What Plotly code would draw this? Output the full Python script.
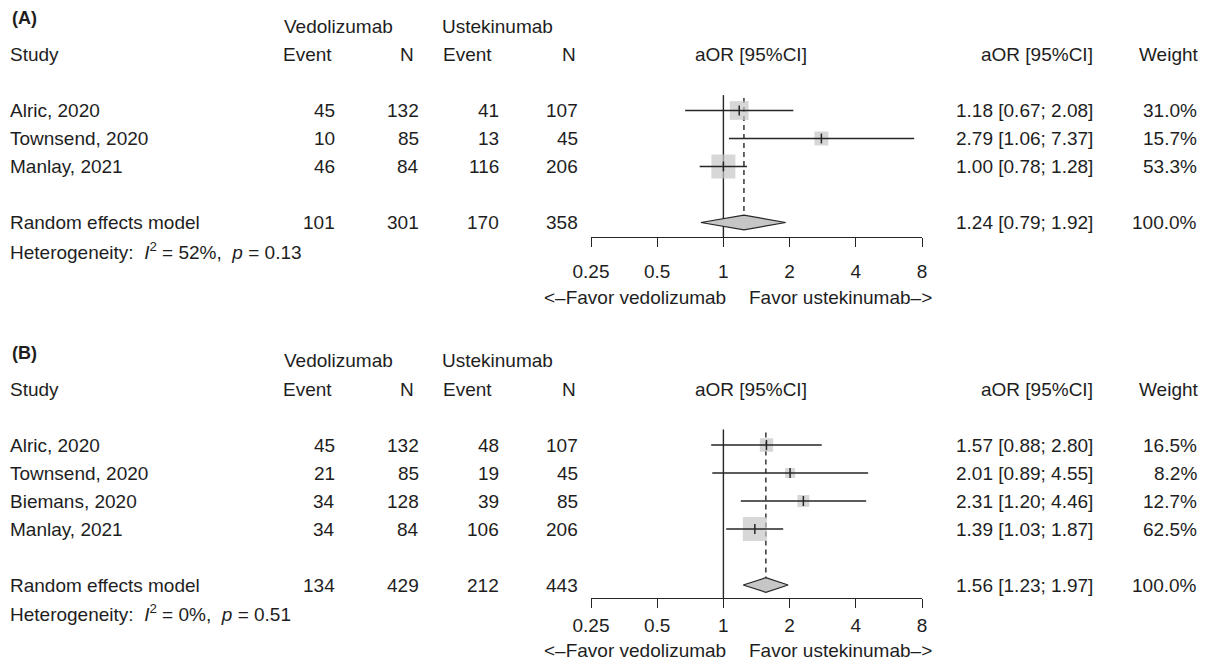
import plotly.graph_objects as go

# ---------------- data ----------------
A_studies = ["Alric, 2020", "Townsend, 2020", "Manlay, 2021"]
A_vedo_event = [45, 10, 46]
A_vedo_n = [132, 85, 84]
A_ust_event = [41, 13, 116]
A_ust_n = [107, 45, 206]
A_or = [1.18, 2.79, 1.00]
A_lo = [0.67, 1.06, 0.78]
A_hi = [2.08, 7.37, 1.28]
A_weight = [31.0, 15.7, 53.3]
A_pooled = [1.24, 0.79, 1.92]
A_totals = [101, 301, 170, 358]
A_het = ["52%", "0.13"]

B_studies = ["Alric, 2020", "Townsend, 2020", "Biemans, 2020", "Manlay, 2021"]
B_vedo_event = [45, 21, 34, 34]
B_vedo_n = [132, 85, 128, 84]
B_ust_event = [48, 19, 39, 106]
B_ust_n = [107, 45, 85, 206]
B_or = [1.57, 2.01, 2.31, 1.39]
B_lo = [0.88, 0.89, 1.20, 1.03]
B_hi = [2.80, 4.55, 4.46, 1.87]
B_weight = [16.5, 8.2, 12.7, 62.5]
B_pooled = [1.56, 1.23, 1.97]
B_totals = [134, 429, 212, 443]
B_het = ["0%", "0.51"]

tick_vals = [0.25, 0.5, 1, 2, 4, 8]
tick_text = ["0.25", "0.5", "1", "2", "4", "8"]

# ---------------- layout helpers ----------------
W, H = 1211, 664
OFF = 8          # page body margin in the browser
ROW = 28.0
FONT = "Liberation Sans, Arial, Helvetica, sans-serif"
FS = 19
TXT = "#1e1e1e"
LINE = "#262626"
SQ = "#c6c6c6"
X0, X1 = 591, 922

def fx(px):
    return (px - OFF) / W

def fy(px):
    return 1 - (px - OFF) / H

fig = go.Figure()
annotations = []

def text(xpx, ypx, s, anchor="left", size=FS, bold=False):
    if bold:
        s = "<b>" + s + "</b>"
    annotations.append(dict(
        x=fx(xpx), y=fy(ypx), xref="paper", yref="paper", text=s,
        xanchor=anchor, yanchor="middle", showarrow=False,
        font=dict(family=FONT, size=size, color=TXT)))

def panel(idx, label, y0, axis_px, standoff, favor_px, studies, ve, vn, ue, un,
          orr, lo, hi, w, pooled, totals, het):
    n = len(studies)
    kr = n + 1            # random-effects row
    top_px = y0 - ROW * 1.2
    kpx = lambda k: y0 + ROW * k
    kax = (axis_px - y0) / ROW
    xa = "xaxis" if idx == 1 else "xaxis%d" % idx
    ya = "yaxis" if idx == 1 else "yaxis%d" % idx
    xr = "x" if idx == 1 else "x%d" % idx
    yr = "y" if idx == 1 else "y%d" % idx

    fig.layout[xa] = dict(
        domain=[fx(X0), fx(X1)], type="log",
        range=[-0.60206, 0.90309], tickvals=tick_vals, ticktext=tick_text,
        showline=True, linecolor=LINE, linewidth=1.3, ticks="outside",
        ticklen=9, tickwidth=1.3, tickcolor=LINE, showgrid=False,
        zeroline=False, anchor=yr, ticklabelstandoff=standoff, automargin=False,
        tickfont=dict(family=FONT, size=FS, color=TXT))
    fig.layout[ya] = dict(
        domain=[fy(axis_px), fy(top_px)],
        range=[kax, (top_px - y0) / ROW],
        visible=False, showgrid=False, zeroline=False, anchor=xr, automargin=False)

    ks = list(range(n))
    # reference line at 1
    fig.add_trace(go.Scatter(x=[1, 1], y=[-0.55, kax], mode="lines",
                             line=dict(color=LINE, width=1.4), xaxis=xr, yaxis=yr,
                             hoverinfo="skip", showlegend=False))
    # dashed pooled line
    fig.add_trace(go.Scatter(x=[pooled[0], pooled[0]], y=[-0.45, kr - 0.25], mode="lines",
                             line=dict(color=LINE, width=1.4, dash="5px,4px"),
                             xaxis=xr, yaxis=yr, hoverinfo="skip", showlegend=False))
    # squares
    wmax = max(w)
    sizes = [2 + 22 * (wi / wmax) ** 0.5 for wi in w]
    fig.add_trace(go.Scatter(x=orr, y=ks, mode="markers",
                             marker=dict(symbol="square", size=sizes, color=SQ, line=dict(width=0)),
                             xaxis=xr, yaxis=yr, hoverinfo="skip", showlegend=False))
    # CI lines
    cx, cy = [], []
    for k, a, b in zip(ks, lo, hi):
        cx += [a, b, None]
        cy += [k, k, None]
    fig.add_trace(go.Scatter(x=cx, y=cy, mode="lines", line=dict(color=LINE, width=1.4),
                             xaxis=xr, yaxis=yr, hoverinfo="skip", showlegend=False))
    # estimate ticks
    fig.add_trace(go.Scatter(x=orr, y=ks, mode="markers",
                             marker=dict(symbol="line-ns", size=7, line=dict(color=LINE, width=1.5)),
                             xaxis=xr, yaxis=yr, hoverinfo="skip", showlegend=False))
    # diamond
    fig.add_trace(go.Scatter(x=[pooled[1], pooled[0], pooled[2], pooled[0], pooled[1]],
                             y=[kr, kr - 0.26, kr, kr + 0.26, kr], mode="lines", fill="toself",
                             fillcolor=SQ, line=dict(color=LINE, width=1.2),
                             xaxis=xr, yaxis=yr, hoverinfo="skip", showlegend=False))

    # ---- text columns ----
    text(10, y0 - 92.5, label, size=18, bold=True)
    text(281.5, kpx(-3), "Vedolizumab")
    text(440, kpx(-3), "Ustekinumab")
    text(8, kpx(-2), "Study")
    text(333.7, kpx(-2), "Event", "right")
    text(416.3, kpx(-2), "N", "right")
    text(494, kpx(-2), "Event", "right")
    text(578, kpx(-2), "N", "right")
    text(750.5, kpx(-2), "aOR [95%CI]", "center")
    text(1094.7, kpx(-2), "aOR [95%CI]", "right")
    text(1200.7, kpx(-2), "Weight", "right")
    cols = [337, 420.7, 501, 580.3]
    for k in ks:
        yk = kpx(k)
        text(8, yk, studies[k])
        for xpx, v in zip(cols, [ve[k], vn[k], ue[k], un[k]]):
            text(xpx, yk, str(v), "right")
        text(1094.7, yk, "%.2f [%.2f; %.2f]" % (orr[k], lo[k], hi[k]), "right")
        text(1199, yk, "%.1f%%" % w[k], "right")
    yk = kpx(kr)
    text(8, yk, "Random effects model")
    for xpx, v in zip(cols, totals):
        text(xpx, yk, str(v), "right")
    text(1094.7, yk, "%.2f [%.2f; %.2f]" % (pooled[0], pooled[1], pooled[2]), "right")
    text(1199, yk, "100.0%", "right")
    text(8, kpx(kr + 1),
         "Heterogeneity:  <i>I</i><sup>2</sup> = %s,  <i>p</i> = %s" % (het[0], het[1]))
    # favour labels
    text(728, favor_px, "<–Favor vedolizumab", "right")
    text(746.5, favor_px, "Favor ustekinumab–>", "left")

panel(1, "(A)", 110.5, 237.0, 8, 297.8, A_studies, A_vedo_event, A_vedo_n, A_ust_event, A_ust_n,
      A_or, A_lo, A_hi, A_weight, A_pooled, A_totals, A_het)
panel(2, "(B)", 445.0, 598.0, 1, 650.5, B_studies, B_vedo_event, B_vedo_n, B_ust_event, B_ust_n,
      B_or, B_lo, B_hi, B_weight, B_pooled, B_totals, B_het)

fig.update_layout(width=W, height=H, autosize=False,
                  margin=dict(l=0, r=0, t=0, b=0, pad=0, autoexpand=False),
                  paper_bgcolor="white", plot_bgcolor="white",
                  showlegend=False, annotations=annotations,
                  font=dict(family=FONT, size=FS, color=TXT))

fig.write_html("out.html")
